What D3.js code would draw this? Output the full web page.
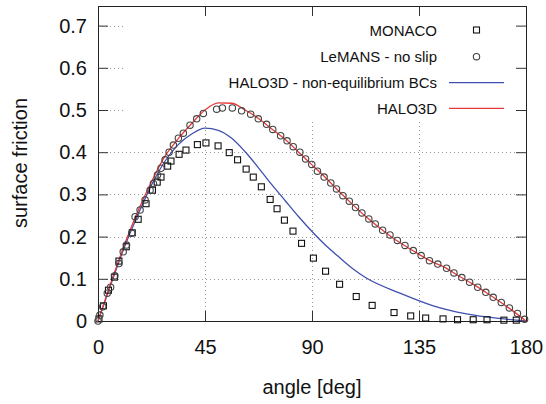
<!DOCTYPE html>
<html>
<head>
<meta charset="utf-8">
<script src="https://cdn.jsdelivr.net/npm/d3@7"></script>
<style>
  body { margin: 0; background: #fff; }
  svg { font-family: "Liberation Sans", Arial, sans-serif; }
</style>
</head>
<body>
<script>
// surface friction vs angle

const xTicks = [0, 45, 90, 135, 180]
const yTicks = [0, 0.1, 0.2, 0.3, 0.4, 0.5, 0.6, 0.7]

const monacoAngle = [0.4, 2.3, 4.4, 6.9, 8.8, 11.9, 14.4, 16.9, 20.2, 22.9, 24.9, 26.5, 29.3, 30.7,
    34.1, 37.0, 41.8, 45.4, 50.5, 55.2, 58.7, 62.3, 65.3, 68.7, 72.4, 75.3, 78.4, 82.0, 85.6,
    90.6, 95.7, 101.6, 108.6, 115.3, 124.5, 131.5, 137.8, 145.1, 151.2, 157.8, 163.6, 170.7, 175.9]
const monacoValue = [0.005, 0.036, 0.073, 0.104, 0.142, 0.176, 0.209, 0.241, 0.278, 0.310, 0.329, 0.341, 0.367, 0.379,
    0.395, 0.405, 0.418, 0.422, 0.415, 0.399, 0.382, 0.360, 0.341, 0.318, 0.288, 0.266, 0.239, 0.213, 0.184,
    0.149, 0.118, 0.087, 0.058, 0.037, 0.020, 0.012, 0.007, 0.005, 0.003, 0.003, 0.003, 0.002, 0.002]

const lemansAngle = [0, 0.8, 2.0, 3.9, 5.3, 7.1, 8.8, 10.6, 12.0, 14.2, 15.6, 17.7, 19.8, 21.9, 23.3, 25.0,
    26.5, 28.2, 29.9, 31.7, 33.8, 35.9, 38.7, 41.5, 44.3, 49.9, 52.3, 56.5, 60.4, 64.2, 67.4,
    70.9, 73.5, 76.8, 79.5, 82.1, 84.9, 87.3, 89.9, 92.3, 95.1, 97.9, 100.3, 103.0, 105.7,
    108.3, 111.0, 113.9, 116.6, 119.7, 122.8, 125.9, 129.1, 132.6, 135.9, 139.4, 142.9, 146.6,
    149.7, 153.0, 156.3, 159.7, 163.1, 166.2, 169.6, 173.0, 176.4, 179.4]
const lemansValue = [0, 0.014, 0.034, 0.066, 0.080, 0.107, 0.136, 0.164, 0.180, 0.208, 0.247, 0.263, 0.287, 0.310, 0.326, 0.346,
    0.362, 0.382, 0.400, 0.417, 0.433, 0.445, 0.464, 0.479, 0.492, 0.502, 0.505, 0.505, 0.498, 0.490, 0.479,
    0.466, 0.454, 0.439, 0.427, 0.413, 0.400, 0.384, 0.371, 0.355, 0.341, 0.327, 0.313, 0.297, 0.284,
    0.269, 0.256, 0.242, 0.230, 0.215, 0.204, 0.191, 0.179, 0.167, 0.155, 0.143, 0.135, 0.125,
    0.114, 0.103, 0.092, 0.080, 0.068, 0.056, 0.044, 0.031, 0.018, 0.004]

const haloNeqAngle = [0, 5.6, 11.25, 16.9, 22.5, 28.1, 33.75, 39.4, 45, 50.6, 56.25, 61.9, 67.5, 73.1,
    78.75, 84.4, 90, 95.6, 101.25, 106.9, 112.5, 127, 141, 155, 169, 180]
const haloNeqValue = [0, 0.09, 0.177, 0.253, 0.322, 0.378, 0.418, 0.443, 0.457, 0.452, 0.433, 0.401, 0.363, 0.323,
    0.285, 0.247, 0.212, 0.180, 0.152, 0.125, 0.103, 0.066, 0.036, 0.017, 0.006, 0]

const haloAngle = [0, 5.6, 11.25, 16.9, 22.5, 28.1, 33.75, 39.4, 45, 50.6, 56.25, 61.9, 67.5, 73.1,
    78.75, 84.4, 90, 95.6, 101.25, 106.9, 112.5, 118.1, 123.75, 129.4, 135, 140.6, 146.25,
    151.9, 157.5, 163.1, 168.75, 174.4, 180]
const haloValue = [0, 0.093, 0.183, 0.262, 0.33, 0.39, 0.432, 0.468, 0.5, 0.517, 0.516, 0.5, 0.48, 0.455,
    0.43, 0.40, 0.37, 0.34, 0.308, 0.277, 0.248, 0.222, 0.198, 0.177, 0.158, 0.14, 0.126,
    0.106, 0.088, 0.068, 0.047, 0.024, 0]

const legendLabels = ['MONACO', 'LeMANS - no slip', 'HALO3D - non-equilibrium BCs', 'HALO3D']

const m = { width: 546, height: 404, left: 98, right: 526, top: 6, bottom: 321 }

const svg = d3.select('body').append('svg')
    .attr('width', m.width)
    .attr('height', m.height)

const x = d3.scaleLinear().domain([0, 180]).range([m.left, m.right])
const y = d3.scaleLinear().domain([0, 0.75]).range([m.bottom, 4.5])

// grid (dotted)
const grid = svg.append('g')
    .attr('stroke', '#999')
    .attr('stroke-width', 1)
    .attr('stroke-dasharray', '1,3')

grid.selectAll('.gy')
    .data(yTicks.filter(d => d > 0))
    .enter()
    .append('line')
        .attr('x1', m.left)
        .attr('x2', m.right)
        .attr('y1', d => Math.round(y(d)) + 0.5)
        .attr('y2', d => Math.round(y(d)) + 0.5)

grid.selectAll('.gx')
    .data(xTicks.filter(d => d > 0 && d < 180))
    .enter()
    .append('line')
        .attr('x1', d => Math.round(x(d)) + 0.5)
        .attr('x2', d => Math.round(x(d)) + 0.5)
        .attr('y1', m.top)
        .attr('y2', m.bottom)

// opaque key box hides the grid behind it
svg.append('rect')
    .attr('x', 125)
    .attr('y', m.top)
    .attr('width', m.right - 125)
    .attr('height', 116)
    .attr('fill', '#fff')

// axes with inward ticks, mirrored on top and right
const axisFont = g => g.selectAll('text')
    .attr('font-size', '20px')
    .attr('fill', '#111')
    .attr('font-family', '"Liberation Sans", Arial, sans-serif')

svg.append('g')
    .attr('transform', `translate(${m.left},0)`)
    .call(d3.axisLeft(y).tickValues(yTicks).tickSize(-10).tickPadding(11)
        .tickFormat(d => d === 0 ? '0' : d3.format('.1f')(d)))
    .call(g => g.select('.domain').remove())
    .call(axisFont)

svg.append('g')
    .attr('transform', `translate(0,${m.bottom})`)
    .call(d3.axisBottom(x).tickValues(xTicks).tickSize(-10).tickPadding(19))
    .call(g => g.select('.domain').remove())
    .call(axisFont)

svg.append('g')
    .attr('transform', `translate(${m.right},0)`)
    .call(d3.axisRight(y).tickValues(yTicks).tickSize(-10).tickFormat(''))
    .call(g => g.select('.domain').remove())

svg.append('g')
    .attr('transform', `translate(0,${m.top})`)
    .call(d3.axisTop(x).tickValues(xTicks).tickSize(-10).tickFormat(''))
    .call(g => g.select('.domain').remove())

svg.selectAll('.tick line').attr('stroke', '#333')

svg.append('rect')
    .attr('x', m.left + 0.5)
    .attr('y', m.top + 0.5)
    .attr('width', m.right - m.left)
    .attr('height', m.bottom - m.top)
    .attr('fill', 'none')
    .attr('stroke', '#222')
    .attr('stroke-width', 1)

// axis titles
svg.append('text')
    .attr('x', 312)
    .attr('y', 394)
    .attr('text-anchor', 'middle')
    .attr('font-size', '20px')
    .attr('fill', '#111')
    .text('angle [deg]')

svg.append('text')
    .attr('transform', 'translate(27,163) rotate(-90)')
    .attr('text-anchor', 'middle')
    .attr('font-size', '20px')
    .attr('fill', '#111')
    .text('surface friction')

// lines
const line = d3.line()
    .x(d => x(d[0]))
    .y(d => y(d[1]))
    .curve(d3.curveMonotoneX)

svg.append('path')
    .datum(d3.zip(haloNeqAngle, haloNeqValue))
    .attr('fill', 'none')
    .attr('stroke', '#4050b0')
    .attr('stroke-width', 1.3)
    .attr('d', line)

svg.append('path')
    .datum(d3.zip(haloAngle, haloValue))
    .attr('fill', 'none')
    .attr('stroke', '#e83a3a')
    .attr('stroke-width', 1.3)
    .attr('d', line)

// points
svg.selectAll('.sq')
    .data(d3.zip(monacoAngle, monacoValue))
    .enter()
    .append('rect')
        .attr('x', d => x(d[0]) - 3)
        .attr('y', d => y(d[1]) - 3)
        .attr('width', 6)
        .attr('height', 6)
        .attr('fill', 'none')
        .attr('stroke', '#111')
        .attr('stroke-width', 1.1)

svg.selectAll('.ci')
    .data(d3.zip(lemansAngle, lemansValue))
    .enter()
    .append('circle')
        .attr('cx', d => x(d[0]))
        .attr('cy', d => y(d[1]))
        .attr('r', 3.2)
        .attr('fill', 'none')
        .attr('stroke', '#444')
        .attr('stroke-width', 1.1)

// key
const keyY = [30, 56.7, 82.7, 108.3]
const key = svg.append('g')

key.selectAll('text')
    .data(legendLabels)
    .enter()
    .append('text')
        .attr('x', 437)
        .attr('y', (d, i) => keyY[i] + 5.5)
        .attr('text-anchor', 'end')
        .attr('font-size', '15px')
        .attr('fill', '#111')
        .text(d => d)

key.append('rect')
    .attr('x', 473.5).attr('y', keyY[0] - 3)
    .attr('width', 6).attr('height', 6)
    .attr('fill', 'none').attr('stroke', '#111').attr('stroke-width', 1.1)

key.append('circle')
    .attr('cx', 476.5).attr('cy', keyY[1])
    .attr('r', 3.2)
    .attr('fill', 'none').attr('stroke', '#444').attr('stroke-width', 1.1)

key.append('line')
    .attr('x1', 449).attr('x2', 504)
    .attr('y1', keyY[2]).attr('y2', keyY[2])
    .attr('stroke', '#4050b0').attr('stroke-width', 1.3)

key.append('line')
    .attr('x1', 449).attr('x2', 504)
    .attr('y1', keyY[3]).attr('y2', keyY[3])
    .attr('stroke', '#e83a3a').attr('stroke-width', 1.3)
</script>
</body>
</html>
